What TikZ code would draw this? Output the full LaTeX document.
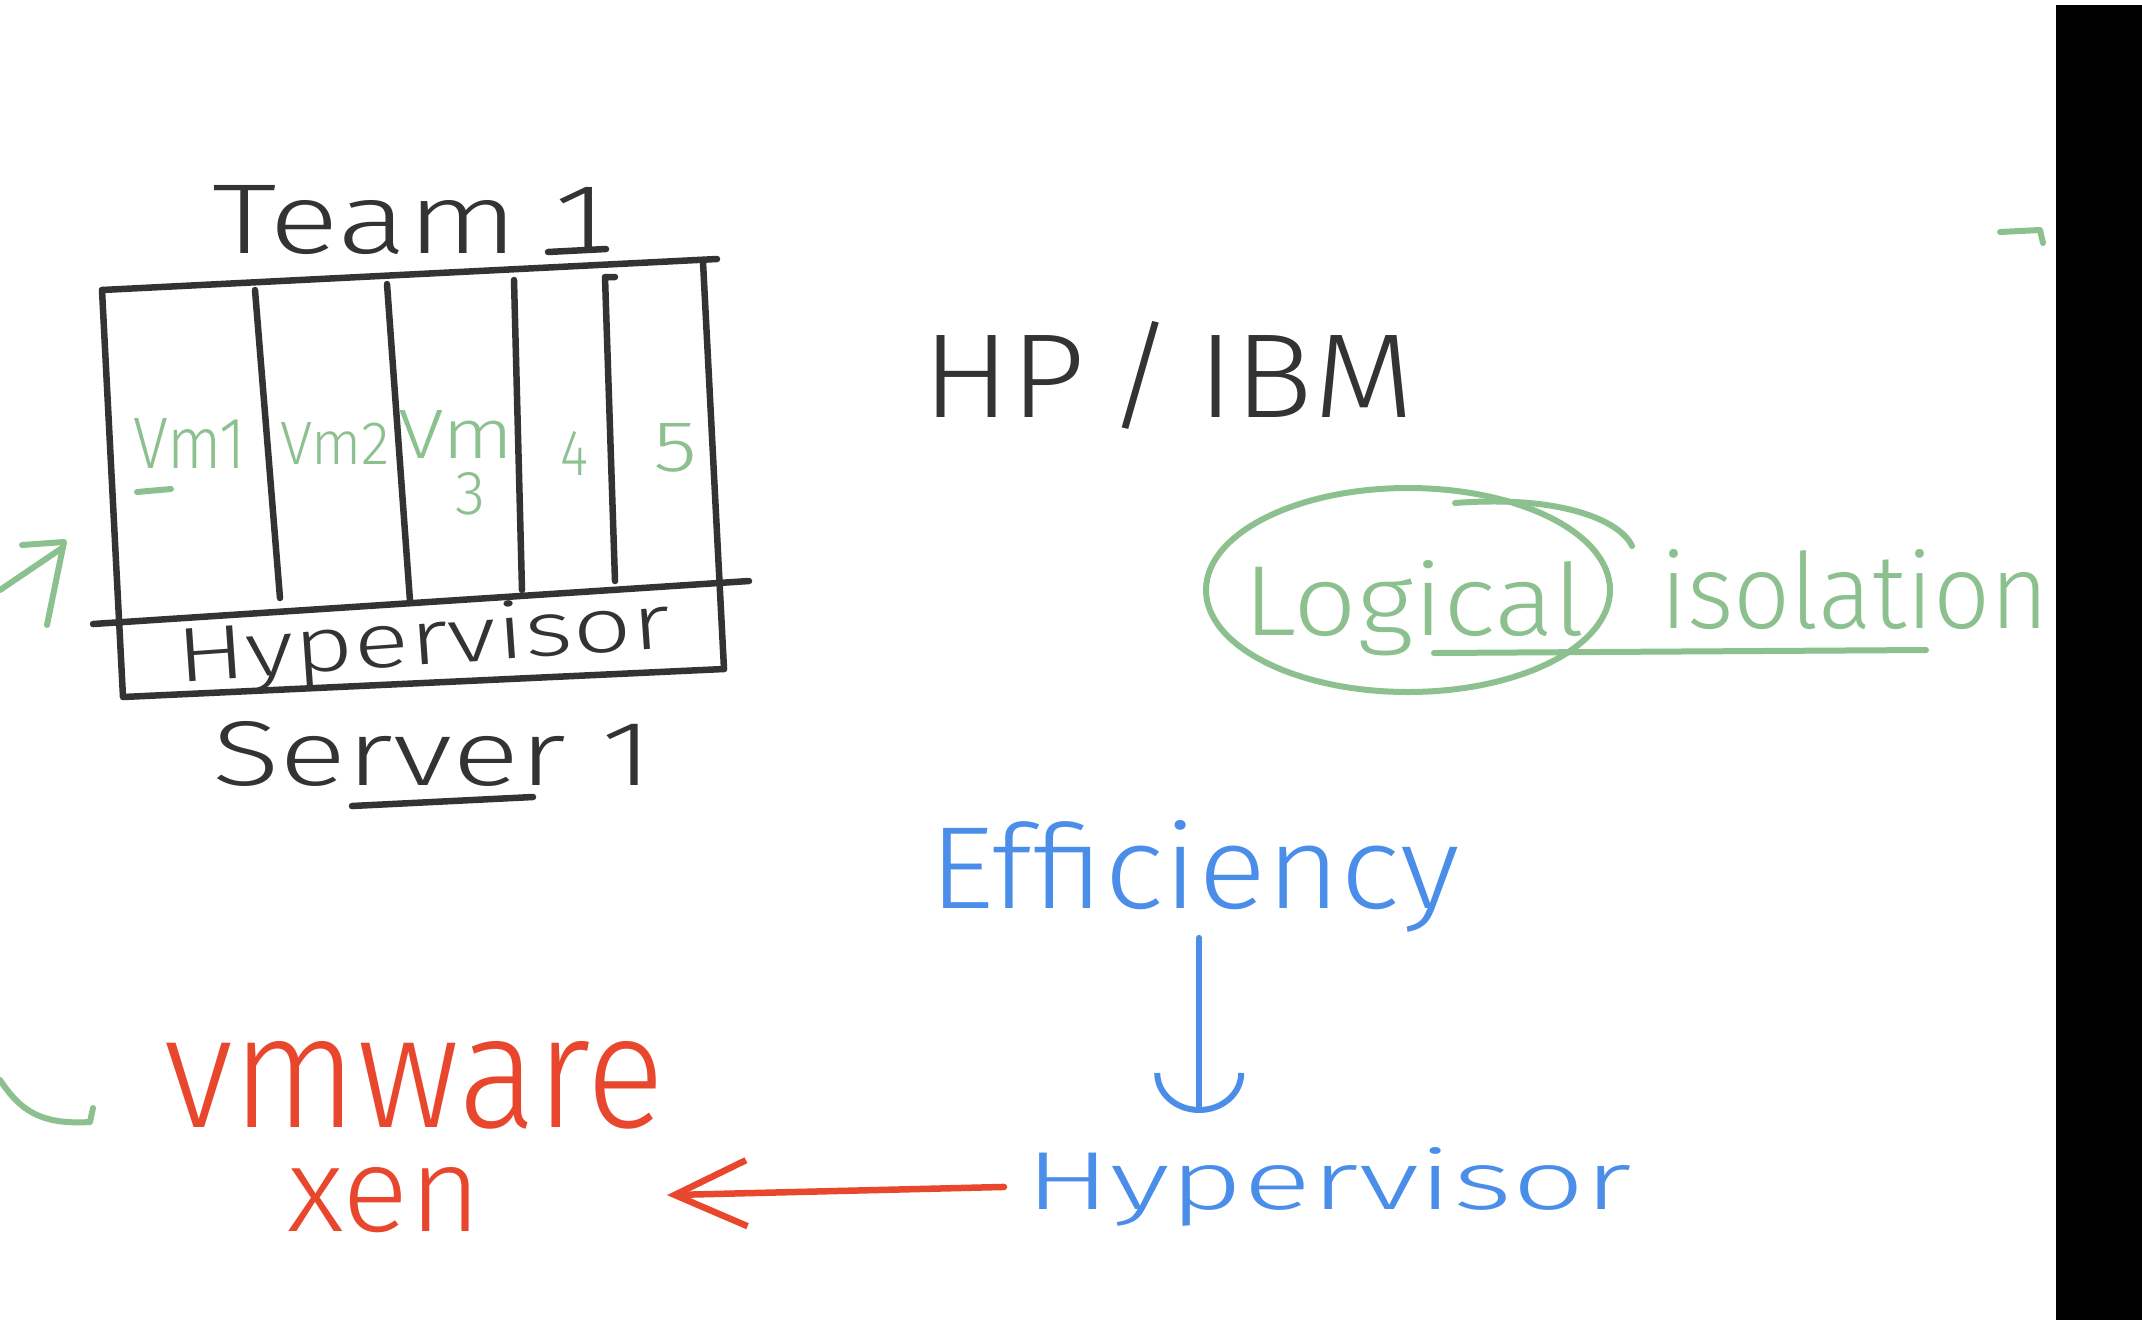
\documentclass[tikz,border=0pt]{standalone}
\usepackage{fontspec}
\IfFontExistsTF{Fira Sans Light}{\setmainfont{Fira Sans Light}}{\setmainfont{Open Sans}}
\usepackage{graphicx}
\usetikzlibrary{arrows.meta}
\definecolor{ink}{HTML}{333333}
\definecolor{gr}{HTML}{8CC08E}
\definecolor{bl}{HTML}{4A8EEA}
\definecolor{rd}{HTML}{E8472E}
\newcommand{\fitbox}[3]{\resizebox{#1pt}{#2pt}{#3}}
\begin{document}
\begin{tikzpicture}[x=1pt,y=-1pt,line cap=round,line join=round,
  txt/.style={inner sep=0pt,outer sep=0pt,anchor=base west},
  pen/.style={line width=6.5pt,draw=ink},
  gpen/.style={line width=6pt,draw=gr},
  bpen/.style={line width=6pt,draw=bl},
  rpen/.style={line width=6.5pt,draw=rd}]
\useasboundingbox (0,0) rectangle (2142,1320);
\fill[white] (0,0) rectangle (2142,1320);

% ---------- server box ----------
\coordinate (tl) at (102,290);
\coordinate (tr) at (717,259);
\coordinate (bl) at (123,697);
\coordinate (br) at (724,669);
\draw[pen] (tl) -- (tr);
\draw[pen] (tl) -- (bl) -- (br);
\draw[pen] (703,262) -- (br);
\draw[pen] (93,624) -- (749,581);
\draw[pen] (255,290) -- (280,598);
\draw[pen] (387,284) -- (410,601);
\draw[pen] (514,280) -- (522,590);
\draw[pen] (615,277) -- (605,277) -- (615,581);

\node[txt,text=ink] (team) at (212,253) {\fitbox{396}{68}{Team 1}};
\draw[pen] (548,252) -- (606,249);

\node[txt,text=gr] (vm1) at (133,468) {\fitbox{113}{50}{Vm1}};
\draw[gpen] (137,492) -- (171,489);
\node[txt,text=gr] (vm2) at (280,464) {\fitbox{110}{42}{Vm2}};
\node[txt,text=gr] (vm3) at (398,458) {\fitbox{116}{48}{Vm}};
\node[txt,text=gr] (n3) at (455,514) {\fitbox{30}{42}{3}};
\node[txt,text=gr] (n4) at (560,475) {\fitbox{28}{44}{4}};
\node[txt,text=gr] (n5) at (653,471) {\fitbox{44}{48}{5}};

\node[txt,text=ink,rotate=4] (hyp1) at (178,682) {\fitbox{495}{58}{Hypervisor}};
\node[txt,text=ink] (server) at (212,785) {\fitbox{441}{64}{Server 1}};
\draw[pen] (352,806) -- (533,797);

% green arrow on left edge
\draw[gpen] (0,590) -- (62,548);
\draw[gpen] (22,545) -- (64,542) -- (47,625);

% ---------- HP / IBM ----------
\node[txt,text=ink] (hp) at (922,417) {\fitbox{492}{96}{HP\,/\,IBM}};

% ---------- logical isolation ----------
\node[txt,text=gr] (logical) at (1243,635) {\fitbox{342}{75}{Logical}};
\node[txt,text=gr] (iso) at (1660,628) {\fitbox{389}{79}{isolation}};
\draw[gpen] (1408,590) ellipse [x radius=202,y radius=102];
\draw[gpen] (1455,503) .. controls (1560,495) and (1620,520) .. (1632,546);
\draw[gpen] (1434,653) -- (1926,650);
\draw[gpen] (2000,232) -- (2040,230) -- (2043,243);
\draw[gpen] (0,1080) .. controls (20,1110) and (40,1125) .. (90,1122) -- (93,1108);

% ---------- efficiency -> hypervisor -> vmware/xen ----------
\node[txt,text=bl] (eff) at (929,908) {\fitbox{530}{88}{Efficiency}};
\node[txt,text=bl] (hyp2) at (1025,1209) {\fitbox{607}{62}{Hypervisor}};
\node[txt,text=rd] (vmw) at (164,1127) {\fitbox{501}{86}{vmware}};
\node[txt,text=rd] (xen) at (287,1231) {\fitbox{194}{64}{xen}};

\draw[bpen,-{Arc Barb[length=40pt,width=90pt]},shorten <=6pt,shorten >=34pt]
  ([xshift=5pt]eff.south) -- ([xshift=5pt]eff.south |- hyp2.north);
\draw[rpen,-{Straight Barb[length=72pt,width=66pt]},shorten <=21pt,shorten >=186pt]
  (hyp2.west) -- (xen.east);

% black side bar
\fill[black] (2056,5) rectangle (2142,1320);
\end{tikzpicture}
\end{document}
